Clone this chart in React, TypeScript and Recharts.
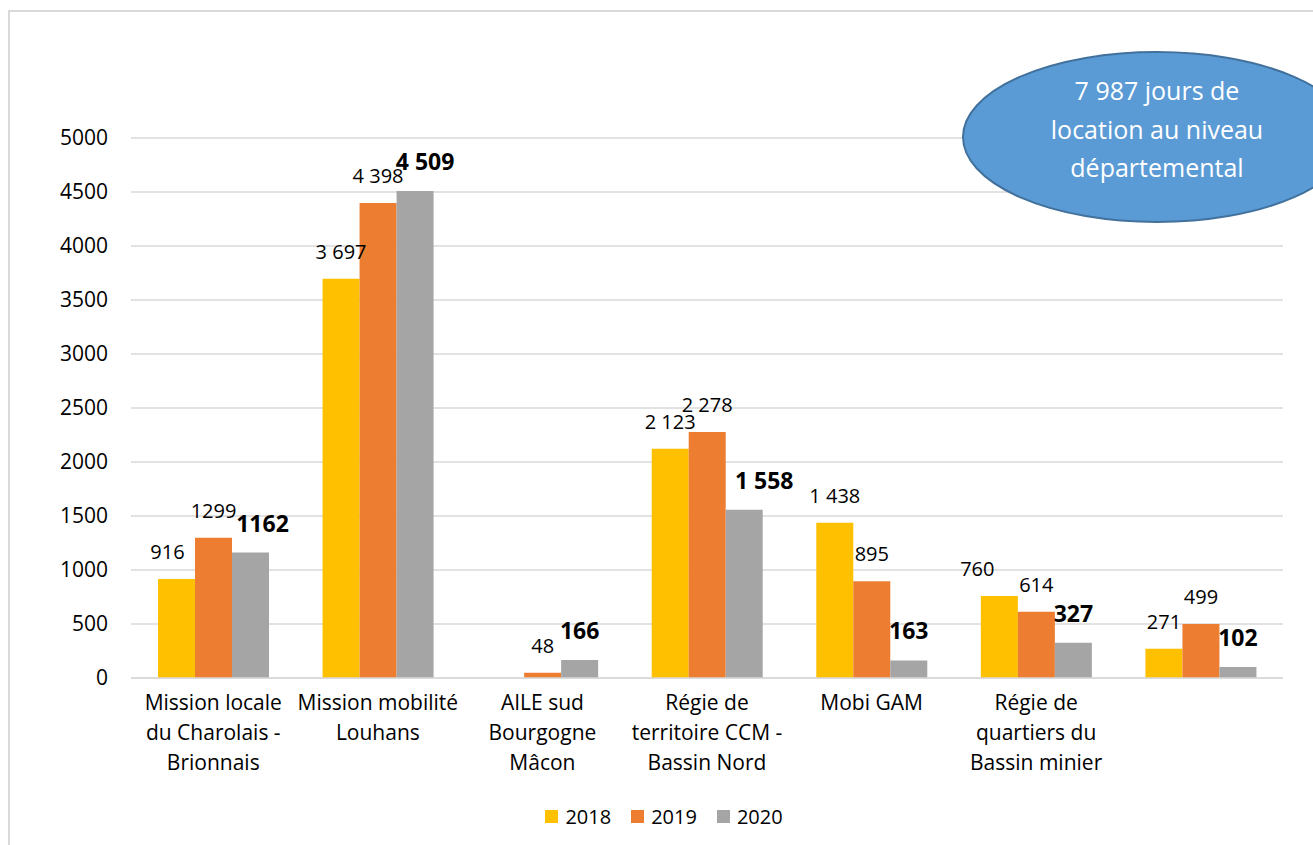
import { BarChart, Bar, XAxis, YAxis, CartesianGrid, Legend, LabelList } from "recharts";

const categoryLines = [
  ["Mission locale", "du Charolais -", "Brionnais"],
  ["Mission mobilité", "Louhans"],
  ["AILE sud", "Bourgogne", "Mâcon"],
  ["Régie de", "territoire CCM -", "Bassin Nord"],
  ["Mobi GAM"],
  ["Régie de", "quartiers du", "Bassin minier"],
  [""],
];
const years = ["2018", "2019", "2020"];
const values2018 = [916, 3697, null, 2123, 1438, 760, 271];
const values2019 = [1299, 4398, 48, 2278, 895, 614, 499];
const values2020 = [1162, 4509, 166, 1558, 163, 327, 102];
const labels2018 = ["916", "3 697", "", "2 123", "1 438", "760", "271"];
const labels2019 = ["1299", "4 398", "48", "2 278", "895", "614", "499"];
const labels2020 = ["1162", "4 509", "166", "1 558", "163", "327", "102"];
const yTicks = [0, 500, 1000, 1500, 2000, 2500, 3000, 3500, 4000, 4500, 5000];
const calloutLines = ["7 987 jours de", "location au niveau", "départemental"];

const COLORS = ["#FFC000", "#ED7D31", "#A5A5A5"];
const FONT = "'Open Sans', sans-serif";

// labels that were dragged sideways in the original (px)
const nudges: Record<string, number> = { "0-0": -9, "2-0": 12, "2-1": 10, "2-3": 20, "0-5": -22 };

const data = categoryLines.map((lines, i) => ({
  name: lines.join(" "),
  y2018: values2018[i],
  y2019: values2019[i],
  y2020: values2020[i],
}));

const allValues = [values2018, values2019, values2020];
const allLabels = [labels2018, labels2019, labels2020];

function makeLabel(s: number) {
  return (props: any) => {
    const { x, y, width, value } = props;
    if (value == null) return null;
    // LabelList skips empty entries, so find the category from the value itself
    const idx = allValues[s].indexOf(Number(value));
    const text = allLabels[s][idx];
    if (!text) return null;
    const bold = s === 2;
    return (
      <text
        x={x + width / 2 + (nudges[`${s}-${idx}`] || 0)}
        y={y - (bold ? 21 : 20)}
        textAnchor="middle"
        fontFamily={FONT}
        fontSize={bold ? 23 : 20}
        fontWeight={bold ? 700 : 400}
        fill="#000"
      >
        {text}
      </text>
    );
  };
}

function CategoryTick(props: any) {
  const { x, y, index } = props;
  const lines = categoryLines[index] || [];
  return (
    <text x={x} y={y} textAnchor="middle" fontFamily={FONT} fontSize={21} fill="#000">
      {lines.map((l, i) => (
        <tspan key={i} x={x} dy={i === 0 ? 24 : 30}>
          {l}
        </tspan>
      ))}
    </text>
  );
}

function LegendContent() {
  return (
    <div style={{ display: "flex", justifyContent: "center", alignItems: "center", height: 57, paddingLeft: 45, fontFamily: FONT, fontSize: 20, color: "#000" }}>
      {years.map((y, i) => (
        <div key={y} style={{ display: "flex", alignItems: "center", marginRight: i < 2 ? 20 : 0 }}>
          <span style={{ width: 13, height: 13, background: COLORS[i], display: "inline-block", marginRight: 7 }} />
          <span>{y}</span>
        </div>
      ))}
    </div>
  );
}

export default function App() {
  return (
    <div style={{ position: "absolute", left: 0, top: 0, width: 1313, height: 845, overflow: "hidden", background: "#fff" }}>
      <style>{`body{margin:0;overflow:hidden}`}</style>
      <div style={{ position: "absolute", left: 8, top: 10, width: 1400, height: 900, border: "2px solid #D9D9D9" }} />
      <div style={{ position: "absolute", left: 0, top: 0 }}>
        <BarChart width={1313} height={845} data={data} margin={{ top: 138, right: 30, left: 0, bottom: 0 }} barCategoryGap={27} barGap={0}>
          <CartesianGrid vertical={false} stroke="#D9D9D9" strokeWidth={1.5} />
          <XAxis dataKey="name" height={110} tickLine={false} axisLine={{ stroke: "#D9D9D9", strokeWidth: 1.5 }} tick={<CategoryTick />} interval={0} />
          <YAxis width={131} domain={[0, 5000]} ticks={yTicks} tickLine={false} axisLine={false} tickMargin={17} tick={{ fontFamily: FONT, fontSize: 21, fill: "#000" }} />
          <Legend verticalAlign="bottom" height={57} content={<LegendContent />} />
          <Bar dataKey="y2018" name="2018" fill={COLORS[0]} isAnimationActive={false}>
            <LabelList dataKey="y2018" content={makeLabel(0)} />
          </Bar>
          <Bar dataKey="y2019" name="2019" fill={COLORS[1]} isAnimationActive={false}>
            <LabelList dataKey="y2019" content={makeLabel(1)} />
          </Bar>
          <Bar dataKey="y2020" name="2020" fill={COLORS[2]} isAnimationActive={false}>
            <LabelList dataKey="y2020" content={makeLabel(2)} />
          </Bar>
        </BarChart>
      </div>
      <svg width={1313} height={845} style={{ position: "absolute", left: 0, top: 0, pointerEvents: "none" }}>
        <ellipse cx={1157} cy={137} rx={194} ry={85} fill="#5B9BD5" stroke="#41719C" strokeWidth={2} />
        {calloutLines.map((l, i) => (
          <text key={i} x={1157} y={100 + i * 38.5} textAnchor="middle" fontFamily={FONT} fontSize={25} fill="#fff">
            {l}
          </text>
        ))}
      </svg>
    </div>
  );
}
